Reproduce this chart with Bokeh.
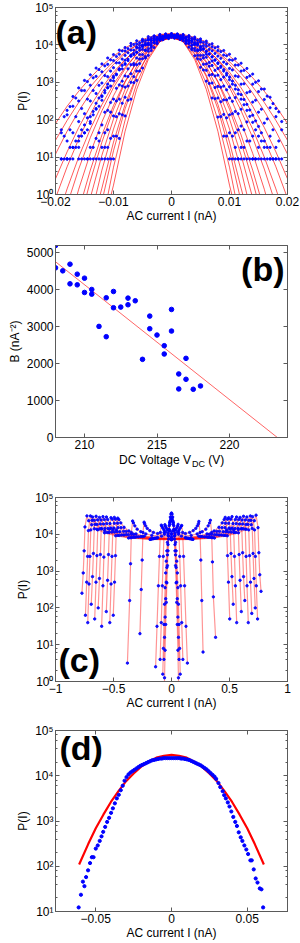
import numpy as np
from bokeh.plotting import figure
from bokeh.models import (Range1d, FixedTicker, LogTicker, LinearAxis, LogAxis, Label,
                          CustomJSTickFormatter)
from bokeh.layouts import column
from bokeh.embed import file_html
from bokeh.resources import INLINE

# ------------------------------------------------------------------ data
# (a) fitted curves (log10 P) on a common current grid, and measured points
a_fit_I = [-0.020, -0.018, -0.016, -0.014, -0.012, -0.010, -0.008, -0.006, -0.004, -0.002, 0.0,
           0.002, 0.004, 0.006, 0.008, 0.010, 0.012, 0.014, 0.016, 0.018, 0.020]
a_fit_log10P = [
    [1.90, 2.36, 2.76, 3.12, 3.44, 3.70, 3.92, 4.08, 4.20, 4.28, 4.30, 4.28, 4.20, 4.08, 3.92, 3.70, 3.44, 3.12, 2.76, 2.36, 1.90],
    [1.45, 1.98, 2.46, 2.88, 3.24, 3.55, 3.80, 4.00, 4.14, 4.22, 4.25, 4.22, 4.14, 4.00, 3.80, 3.55, 3.24, 2.88, 2.46, 1.98, 1.45],
    [1.08, 1.69, 2.23, 2.71, 3.13, 3.48, 3.77, 3.99, 4.15, 4.25, 4.28, 4.25, 4.15, 3.99, 3.77, 3.48, 3.13, 2.71, 2.23, 1.69, 1.08],
    [0.42, 1.14, 1.79, 2.36, 2.85, 3.27, 3.61, 3.88, 4.07, 4.18, 4.22, 4.18, 4.07, 3.88, 3.61, 3.27, 2.85, 2.36, 1.79, 1.14, 0.42],
    [-0.10, 0.74, 1.48, 2.14, 2.72, 3.20, 3.60, 3.90, 4.12, 4.26, 4.30, 4.26, 4.12, 3.90, 3.60, 3.20, 2.72, 2.14, 1.48, 0.74, -0.10],
    [-0.80, 0.15, 1.00, 1.75, 2.40, 2.95, 3.40, 3.75, 4.00, 4.15, 4.20, 4.15, 4.00, 3.75, 3.40, 2.95, 2.40, 1.75, 1.00, 0.15, -0.80],
    [-1.00, -0.28, 0.68, 1.52, 2.24, 2.86, 3.36, 3.76, 4.04, 4.20, 4.26, 4.20, 4.04, 3.76, 3.36, 2.86, 2.24, 1.52, 0.68, -0.28, -1.00],
    [-1.00, -0.98, 0.14, 1.10, 1.94, 2.64, 3.22, 3.66, 3.98, 4.18, 4.24, 4.18, 3.98, 3.66, 3.22, 2.64, 1.94, 1.10, 0.14, -0.98, -1.00],
    [-1.00, -1.00, -0.43, 0.65, 1.59, 2.38, 3.03, 3.53, 3.89, 4.11, 4.18, 4.11, 3.89, 3.53, 3.03, 2.38, 1.59, 0.65, -0.43, -1.00, -1.00],
    [-1.00, -1.00, -0.84, 0.36, 1.40, 2.28, 3.00, 3.56, 3.96, 4.20, 4.28, 4.20, 3.96, 3.56, 3.00, 2.28, 1.40, 0.36, -0.84, -1.00, -1.00],
    [-1.00, -1.00, -1.00, -0.09, 1.05, 2.02, 2.81, 3.43, 3.87, 4.13, 4.22, 4.13, 3.87, 3.43, 2.81, 2.02, 1.05, -0.09, -1.00, -1.00, -1.00],
    [-1.00, -1.00, -1.00, -0.65, 0.65, 1.75, 2.65, 3.35, 3.85, 4.15, 4.25, 4.15, 3.85, 3.35, 2.65, 1.75, 0.65, -0.65, -1.00, -1.00, -1.00],
    [-1.00, -1.00, -1.00, -1.00, 0.17, 1.40, 2.41, 3.19, 3.75, 4.09, 4.20, 4.09, 3.75, 3.19, 2.41, 1.40, 0.17, -1.00, -1.00, -1.00, -1.00],
    [-1.00, -1.00, -1.00, -1.00, -0.19, 1.17, 2.29, 3.15, 3.77, 4.15, 4.27, 4.15, 3.77, 3.15, 2.29, 1.17, -0.19, -1.00, -1.00, -1.00, -1.00],
    [-1.00, -1.00, -1.00, -1.00, -0.81, 0.73, 1.99, 2.97, 3.67, 4.09, 4.23, 4.09, 3.67, 2.97, 1.99, 0.73, -0.81, -1.00, -1.00, -1.00, -1.00],
    [-1.00, -1.00, -1.00, -1.00, -1.00, 0.25, 1.69, 2.81, 3.61, 4.09, 4.25, 4.09, 3.61, 2.81, 1.69, 0.25, -1.00, -1.00, -1.00, -1.00, -1.00],
]
N = None
a_data_I = [-0.019, -0.018, -0.017, -0.016, -0.015, -0.014, -0.013, -0.012, -0.011, -0.010,
            -0.009, -0.008, -0.007, -0.006, -0.005, -0.004, -0.003, -0.002, -0.001, 0.0,
            0.001, 0.002, 0.003, 0.004, 0.005, 0.006, 0.007, 0.008, 0.009, 0.010,
            0.011, 0.012, 0.013, 0.014, 0.015, 0.016, 0.017, 0.018, 0.019]
a_data_log10P = [
    [1.73, 2.25, 2.62, 2.85, 3.05, 3.20, 3.38, 3.49, 3.65, 3.74, 3.86, 3.93, 4.04, 4.11, 4.15, 4.22, 4.24, 4.28, 4.29,
     4.30, 4.29, 4.28, 4.25, 4.21, 4.16, 4.10, 4.03, 3.95, 3.85, 3.75, 3.63, 3.51, 3.37, 3.22, 3.04, 2.82, 2.60, 2.30, 1.95],
    [1.65, 2.13, 2.36, 2.50, 2.78, 2.92, 3.16, 3.28, 3.48, 3.58, 3.75, 3.84, 3.97, 4.03, 4.12, 4.16, 4.23, 4.26, 4.27,
     4.28, 4.27, 4.25, 4.22, 4.17, 4.11, 4.04, 3.95, 3.85, 3.73, 3.60, 3.46, 3.30, 3.13, 2.95, 2.75, 2.54, 2.32, 2.08, 1.73],
    [0.95, 1.43, 1.65, 1.95, 2.16, 2.50, 2.70, 2.98, 3.15, 3.39, 3.52, 3.72, 3.86, 3.95, 4.09, 4.14, 4.23, 4.25, 4.29,
     4.30, 4.29, 4.26, 4.22, 4.15, 4.07, 3.96, 3.84, 3.70, 3.54, 3.37, 3.17, 2.95, 2.72, 2.47, 2.20, 1.91, 1.56, 1.26, 0.95],
    [0.95, 0.95, 1.26, 1.56, 1.86, 2.08, 2.44, 2.64, 2.95, 3.12, 3.36, 3.50, 3.70, 3.80, 3.95, 4.02, 4.12, 4.15, 4.19,
     4.20, 4.19, 4.16, 4.11, 4.03, 3.94, 3.82, 3.68, 3.52, 3.34, 3.14, 2.92, 2.67, 2.41, 2.12, 1.82, 1.43, 1.26, 0.95, N],
    [N, 0.95, 1.26, 1.43, 1.65, 1.95, 2.28, 2.52, 2.85, 3.04, 3.33, 3.48, 3.70, 3.81, 3.97, 4.05, 4.16, 4.21, 4.25,
     4.26, 4.25, 4.21, 4.15, 4.07, 3.96, 3.83, 3.68, 3.50, 3.30, 3.07, 2.82, 2.55, 2.25, 1.93, 1.56, 1.26, 0.95, 0.95, N],
    [N, 0.95, 0.95, 1.26, 1.65, 1.90, 2.30, 2.62, 2.86, 3.16, 3.35, 3.59, 3.73, 3.92, 4.00, 4.13, 4.18, 4.22, 4.23,
     4.24, 4.23, 4.19, 4.12, 4.02, 3.90, 3.75, 3.57, 3.37, 3.14, 2.88, 2.59, 2.28, 1.94, 1.56, 1.26, 0.95, 0.95, N, N],
    [N, N, N, 0.95, 0.95, 1.26, 1.50, 1.86, 2.25, 2.55, 2.93, 3.17, 3.47, 3.65, 3.88, 4.00, 4.14, 4.20, 4.26,
     4.28, 4.26, 4.21, 4.13, 4.01, 3.86, 3.67, 3.45, 3.19, 2.90, 2.58, 2.22, 1.83, 1.43, 0.95, 0.95, N, N, N, N],
    [N, N, N, N, N, 0.95, 0.95, 1.26, 1.73, 2.10, 2.55, 2.87, 3.23, 3.47, 3.74, 3.90, 4.07, 4.16, 4.23,
     4.25, 4.23, 4.17, 4.06, 3.91, 3.72, 3.49, 3.21, 2.89, 2.53, 2.13, 1.65, 1.26, 0.95, 0.95, N, N, N, N, N],
    [N, N, N, N, N, N, N, 0.95, 1.26, 1.56, 2.16, 2.60, 3.00, 3.30, 3.63, 3.83, 4.05, 4.16, 4.24,
     4.27, 4.24, 4.17, 4.03, 3.85, 3.61, 3.32, 2.98, 2.58, 2.14, 1.65, 1.26, 0.95, N, N, N, N, N, N, N],
    [N, N, N, N, N, N, N, N, 0.95, 0.95, 1.50, 2.10, 2.55, 3.05, 3.38, 3.72, 3.93, 4.12, 4.21,
     4.25, 4.22, 4.11, 3.94, 3.71, 3.40, 3.03, 2.58, 2.07, 1.56, 0.95, 0.95, N, N, N, N, N, N, N, N],
]
a_data2_I = [-0.0185, -0.0175, -0.0165, -0.0155, -0.0145, -0.0135, -0.0125, -0.0115, -0.0105, -0.0095,
             -0.0085, -0.0075, -0.0065, -0.0055, -0.0045, -0.0035, -0.0025, -0.0015, -0.0005,
             0.0005, 0.0015, 0.0025, 0.0035, 0.0045, 0.0055, 0.0065, 0.0075, 0.0085, 0.0095,
             0.0105, 0.0115, 0.0125, 0.0135, 0.0145, 0.0155, 0.0165, 0.0175, 0.0185]
a_data2_log10P = [
    [2.08, 2.35, 2.58, 2.78, 3.02, 3.12, 3.34, 3.44, 3.60, 3.69, 3.84, 3.90, 4.01, 4.06, 4.12, 4.19, 4.20, 4.23, 4.25,
     4.25, 4.24, 4.21, 4.18, 4.13, 4.07, 4.00, 3.92, 3.82, 3.71, 3.59, 3.46, 3.32, 3.17, 3.00, 2.82, 2.63, 2.43, 2.21],
    [1.56, 1.73, 2.08, 2.30, 2.55, 2.78, 2.92, 3.18, 3.30, 3.52, 3.62, 3.79, 3.86, 3.99, 4.05, 4.13, 4.16, 4.19, 4.21,
     4.22, 4.20, 4.17, 4.12, 4.06, 3.98, 3.88, 3.77, 3.64, 3.49, 3.33, 3.15, 2.96, 2.75, 2.52, 2.28, 2.02, 1.73, 1.43],
    [0.95, 1.26, 1.43, 1.73, 2.05, 2.22, 2.58, 2.78, 3.05, 3.20, 3.45, 3.58, 3.77, 3.86, 4.00, 4.06, 4.14, 4.17, 4.20,
     4.20, 4.18, 4.13, 4.07, 3.99, 3.88, 3.75, 3.60, 3.43, 3.24, 3.03, 2.80, 2.54, 2.26, 1.97, 1.65, 1.26, 0.95, 0.95],
    [N, 0.95, 1.26, 1.56, 1.73, 2.13, 2.36, 2.72, 2.90, 3.22, 3.36, 3.62, 3.74, 3.92, 4.00, 4.12, 4.17, 4.22, 4.25,
     4.26, 4.23, 4.19, 4.11, 4.02, 3.90, 3.76, 3.59, 3.40, 3.19, 2.95, 2.69, 2.40, 2.09, 1.73, 1.43, 0.95, 0.95, N],
    [N, N, N, 0.95, 0.95, 1.26, 1.65, 2.20, 2.46, 2.84, 3.03, 3.36, 3.50, 3.74, 3.85, 4.00, 4.06, 4.14, 4.17,
     4.18, 4.15, 4.08, 3.99, 3.87, 3.72, 3.53, 3.32, 3.07, 2.80, 2.49, 2.16, 1.73, 1.43, 0.95, 0.95, N, N, N],
    [N, N, N, N, 0.95, 0.95, 1.43, 1.65, 2.20, 2.50, 2.90, 3.15, 3.46, 3.62, 3.86, 3.97, 4.11, 4.17, 4.21,
     4.22, 4.18, 4.10, 3.99, 3.84, 3.65, 3.43, 3.17, 2.87, 2.53, 2.16, 1.73, 1.26, 0.95, 0.95, N, N, N, N],
    [N, N, N, N, N, N, 0.95, 1.26, 1.50, 2.08, 2.44, 2.90, 3.15, 3.50, 3.69, 3.93, 4.03, 4.14, 4.18,
     4.19, 4.15, 4.05, 3.91, 3.72, 3.48, 3.19, 2.86, 2.48, 2.05, 1.56, 0.95, 0.95, N, N, N, N, N, N],
    [N, N, N, N, N, N, N, 0.95, 0.95, 1.56, 2.13, 2.52, 2.99, 3.30, 3.65, 3.85, 4.05, 4.15, 4.21,
     4.22, 4.16, 4.04, 3.87, 3.63, 3.33, 2.97, 2.56, 2.08, 1.56, 0.95, 0.95, N, N, N, N, N, N, N],
]
a_xticks = [-0.02, -0.01, 0.0, 0.01, 0.02]

# (b) curvature B versus DC voltage, with linear fit
b_V = [208.0, 208.0, 208.5, 209.0, 209.0, 209.5, 209.5, 210.0, 210.0, 210.5, 210.5, 211.0,
       211.5, 211.5, 212.0, 212.0, 212.5, 213.0, 213.0, 213.5, 214.0, 214.5, 214.5, 215.0,
       215.5, 215.5, 216.0, 216.0, 216.5, 216.5, 217.0, 217.0, 217.5, 218.0]
b_B = [5200, 4595, 4514, 4694, 4162, 4423, 4135, 4315, 3928, 4009, 3883, 3009,
       3784, 2730, 3955, 3514, 3532, 3775, 3595, 3703, 2117, 3288, 2946, 2775,
       2486, 2261, 3468, 2883, 1721, 1315, 2144, 1577, 1306, 1396]
b_fit_V = [208.0, 223.3]
b_fit_B = [4760, 0]
b_xticks = [210, 215, 220]
b_yticks = [0, 1000, 2000, 3000, 4000, 5000]

# (c) distributions for a set of AC amplitudes (log10 P)
c_I = [
    [-0.772, -0.761, -0.753, -0.746, -0.729, -0.714, -0.688, -0.644, -0.577, -0.481, -0.370, -0.185, 0.0, 0.185, 0.370, 0.481, 0.577, 0.644, 0.688, 0.714, 0.729, 0.746, 0.753, 0.761, 0.772],
    [-0.742, -0.731, -0.723, -0.716, -0.699, -0.685, -0.660, -0.618, -0.554, -0.462, -0.355, -0.178, 0.0, 0.178, 0.355, 0.462, 0.554, 0.618, 0.660, 0.685, 0.699, 0.716, 0.723, 0.731, 0.742],
    [-0.722, -0.711, -0.703, -0.696, -0.680, -0.666, -0.642, -0.600, -0.538, -0.449, -0.345, -0.173, 0.0, 0.173, 0.345, 0.449, 0.538, 0.600, 0.642, 0.666, 0.680, 0.696, 0.703, 0.711, 0.722],
    [-0.692, -0.681, -0.673, -0.666, -0.650, -0.637, -0.614, -0.574, -0.515, -0.429, -0.330, -0.165, 0.0, 0.165, 0.330, 0.429, 0.515, 0.574, 0.614, 0.637, 0.650, 0.666, 0.673, 0.681, 0.692],
    [-0.662, -0.651, -0.643, -0.636, -0.621, -0.608, -0.586, -0.548, -0.491, -0.410, -0.315, -0.158, 0.0, 0.158, 0.315, 0.410, 0.491, 0.548, 0.586, 0.608, 0.621, 0.636, 0.643, 0.651, 0.662],
    [-0.632, -0.621, -0.613, -0.606, -0.591, -0.579, -0.558, -0.522, -0.468, -0.390, -0.300, -0.150, 0.0, 0.150, 0.300, 0.390, 0.468, 0.522, 0.558, 0.579, 0.591, 0.606, 0.613, 0.621, 0.632],
    [-0.602, -0.591, -0.583, -0.576, -0.561, -0.550, -0.530, -0.496, -0.445, -0.371, -0.285, -0.143, 0.0, 0.143, 0.285, 0.371, 0.445, 0.496, 0.530, 0.550, 0.561, 0.576, 0.583, 0.591, 0.602],
    [-0.562, -0.551, -0.543, -0.536, -0.522, -0.511, -0.493, -0.461, -0.413, -0.345, -0.265, -0.133, 0.0, 0.133, 0.265, 0.345, 0.413, 0.461, 0.493, 0.511, 0.522, 0.536, 0.543, 0.551, 0.562],
    [-0.532, -0.521, -0.513, -0.506, -0.493, -0.483, -0.465, -0.435, -0.390, -0.325, -0.250, -0.125, 0.0, 0.125, 0.250, 0.325, 0.390, 0.435, 0.465, 0.483, 0.493, 0.506, 0.513, 0.521, 0.532],
    [-0.502, -0.491, -0.483, -0.476, -0.463, -0.454, -0.437, -0.409, -0.367, -0.306, -0.235, -0.118, 0.0, 0.118, 0.235, 0.306, 0.367, 0.409, 0.437, 0.454, 0.463, 0.476, 0.483, 0.491, 0.502],
    [-0.380, -0.361, -0.353, -0.346, -0.335, -0.328, -0.316, -0.296, -0.265, -0.221, -0.170, -0.085, 0.0, 0.085, 0.170, 0.221, 0.265, 0.296, 0.316, 0.328, 0.335, 0.346, 0.353, 0.361, 0.380],
    [-0.272, -0.261, -0.253, -0.246, -0.236, -0.232, -0.223, -0.209, -0.187, -0.156, -0.120, -0.060, 0.0, 0.060, 0.120, 0.156, 0.187, 0.209, 0.223, 0.232, 0.236, 0.246, 0.253, 0.261, 0.272],
    [-0.137, -0.125, -0.113, -0.104, -0.096, -0.088, -0.083, -0.075, -0.065, -0.050, -0.030, 0.0, 0.030, 0.050, 0.065, 0.075, 0.083, 0.088, 0.096, 0.104, 0.113, 0.125, 0.137],
    [-0.098, -0.088, -0.079, -0.071, -0.064, -0.057, -0.052, -0.045, -0.035, -0.020, 0.0, 0.020, 0.035, 0.045, 0.052, 0.057, 0.064, 0.071, 0.079, 0.088, 0.098],
    [-0.065, -0.060, -0.055, -0.050, -0.045, -0.040, -0.035, -0.030, -0.025, -0.020, -0.015, -0.010, -0.005, 0.0,
     0.005, 0.010, 0.015, 0.020, 0.025, 0.030, 0.035, 0.040, 0.045, 0.050, 0.055, 0.060, 0.065],
    [-0.065, -0.060, -0.055, -0.050, -0.045, -0.040, -0.035, -0.030, -0.025, -0.020, -0.015, -0.010, -0.005, 0.0,
     0.005, 0.010, 0.015, 0.020, 0.025, 0.030, 0.035, 0.040, 0.045, 0.050, 0.055, 0.060, 0.065],
    [-0.075, -0.070, -0.065, -0.060, -0.055, -0.050, -0.045, -0.040, -0.035, -0.030, -0.025, -0.020, -0.015, -0.010, -0.005, 0.0,
     0.005, 0.010, 0.015, 0.020, 0.025, 0.030, 0.035, 0.040, 0.045, 0.050, 0.055, 0.060, 0.065, 0.070, 0.075],
]
c_log10P = [
    [2.40, 2.95, 3.55, 4.20, 4.50, 4.37, 4.26, 4.14, 4.04, 3.96, 3.90, 3.86, 3.85, 3.86, 3.90, 3.96, 4.04, 4.14, 4.26, 4.37, 4.52, 4.18, 3.50, 2.90, 2.45],
    [1.80, 2.70, 3.40, 4.10, 4.50, 4.38, 4.27, 4.15, 4.05, 3.97, 3.91, 3.87, 3.86, 3.87, 3.91, 3.97, 4.05, 4.15, 4.27, 4.38, 4.48, 4.12, 3.40, 2.60, 1.70],
    [1.60, 2.65, 3.40, 4.12, 4.47, 4.38, 4.27, 4.15, 4.05, 3.97, 3.91, 3.87, 3.86, 3.87, 3.91, 3.97, 4.05, 4.15, 4.27, 4.38, 4.50, 4.16, 3.48, 2.80, 2.00],
    [2.10, 2.85, 3.48, 4.15, 4.49, 4.39, 4.28, 4.16, 4.06, 3.98, 3.92, 3.88, 3.87, 3.88, 3.92, 3.98, 4.06, 4.16, 4.28, 4.39, 4.47, 4.12, 3.42, 2.70, 1.85],
    [1.70, 2.70, 3.42, 4.12, 4.46, 4.39, 4.28, 4.16, 4.06, 3.98, 3.92, 3.88, 3.87, 3.88, 3.92, 3.98, 4.06, 4.16, 4.28, 4.39, 4.49, 4.14, 3.40, 2.60, 1.60],
    [2.00, 2.80, 3.45, 4.15, 4.48, 4.40, 4.29, 4.17, 4.07, 3.99, 3.93, 3.89, 3.88, 3.89, 3.93, 3.99, 4.07, 4.17, 4.29, 4.40, 4.46, 4.15, 3.50, 2.85, 2.20],
    [1.50, 2.60, 3.38, 4.10, 4.47, 4.40, 4.29, 4.17, 4.07, 3.99, 3.93, 3.89, 3.88, 3.89, 3.93, 3.99, 4.07, 4.17, 4.29, 4.40, 4.47, 4.13, 3.45, 2.75, 1.90],
    [1.90, 2.75, 3.45, 4.14, 4.45, 4.41, 4.30, 4.18, 4.08, 4.00, 3.94, 3.90, 3.89, 3.90, 3.94, 4.00, 4.08, 4.18, 4.30, 4.41, 4.48, 4.12, 3.40, 2.60, 1.60],
    [1.60, 2.65, 3.40, 4.12, 4.46, 4.41, 4.30, 4.18, 4.08, 4.00, 3.94, 3.90, 3.89, 3.90, 3.94, 4.00, 4.08, 4.18, 4.30, 4.41, 4.45, 4.14, 3.48, 2.85, 2.10],
    [1.80, 2.70, 3.42, 4.12, 4.44, 4.40, 4.31, 4.19, 4.09, 4.01, 3.95, 3.91, 3.90, 3.91, 3.95, 4.01, 4.09, 4.19, 4.31, 4.40, 4.46, 4.12, 3.42, 2.70, 1.70],
    [0.50, 2.20, 3.20, 4.05, 4.36, 4.31, 4.23, 4.14, 4.07, 4.01, 3.97, 3.95, 3.94, 3.95, 3.97, 4.01, 4.07, 4.14, 4.23, 4.31, 4.38, 4.05, 3.25, 2.30, 1.20],
    [1.30, 2.50, 3.30, 4.05, 4.33, 4.29, 4.23, 4.16, 4.10, 4.05, 4.02, 4.00, 4.00, 4.00, 4.02, 4.05, 4.10, 4.16, 4.23, 4.29, 4.35, 4.05, 3.30, 2.20, 0.80],
    [0.40, 1.50, 2.60, 3.40, 4.05, 4.25, 4.22, 4.17, 4.12, 4.07, 4.03, 4.02, 4.03, 4.07, 4.12, 4.17, 4.22, 4.24, 4.05, 3.40, 2.60, 1.50, 0.50],
    [0.60, 1.60, 2.60, 3.40, 4.05, 4.26, 4.22, 4.17, 4.12, 4.09, 4.08, 4.09, 4.12, 4.17, 4.22, 4.27, 4.05, 3.40, 2.60, 1.60, 0.60],
    [-0.70, 0.10, 0.85, 1.55, 2.15, 2.68, 3.15, 3.55, 3.87, 4.13, 4.33, 4.47, 4.55, 4.58,
     4.55, 4.47, 4.33, 4.13, 3.87, 3.55, 3.15, 2.68, 2.15, 1.55, 0.85, 0.10, -0.70],
    [0.60, 1.20, 1.75, 2.25, 2.70, 3.10, 3.44, 3.72, 3.95, 4.13, 4.27, 4.37, 4.43, 4.45,
     4.43, 4.37, 4.27, 4.13, 3.95, 3.72, 3.44, 3.10, 2.70, 2.25, 1.75, 1.20, 0.60],
    [0.20, 0.90, 1.55, 2.10, 2.55, 2.95, 3.27, 3.55, 3.78, 3.97, 4.12, 4.23, 4.31, 4.36, 4.38, 4.38,
     4.38, 4.36, 4.31, 4.23, 4.12, 3.97, 3.78, 3.55, 3.27, 2.95, 2.55, 2.10, 1.55, 0.90, 0.20],
]
c_xticks = [-1.0, -0.5, 0.0, 0.5, 1.0]

# (d) single distribution and Gaussian fit (log10 P)
d_fit_I = [-0.061, -0.055, -0.050, -0.045, -0.040, -0.035, -0.030, -0.025, -0.020, -0.015, -0.010, -0.005, 0.0,
           0.005, 0.010, 0.015, 0.020, 0.025, 0.030, 0.035, 0.040, 0.045, 0.050, 0.055, 0.061]
d_fit_log10P = [2.04, 2.49, 2.84, 3.14, 3.42, 3.66, 3.88, 4.05, 4.20, 4.31, 4.40, 4.44, 4.46,
                4.44, 4.40, 4.31, 4.20, 4.05, 3.88, 3.66, 3.42, 3.14, 2.84, 2.49, 2.04]
d_data_I = [-0.0613, -0.0598, -0.0585, -0.0575, -0.0564, -0.0551, -0.0538, -0.0526, -0.0515, -0.0500,
            -0.0487, -0.0474, -0.0462, -0.0451, -0.0438, -0.0425, -0.0412, -0.0399, -0.0387, -0.0374,
            -0.0361, -0.0348, -0.0335, -0.0322, -0.0310, -0.0297,
            -0.0284, -0.0271, -0.0258, -0.0245, -0.0232, -0.0219, -0.0206, -0.0193, -0.0180, -0.0167,
            -0.0155, -0.0142, -0.0129, -0.0116, -0.0103, -0.0090, -0.0077, -0.0064, -0.0052, -0.0039,
            -0.0026, -0.0013, 0.0, 0.0013, 0.0026, 0.0039, 0.0052, 0.0064, 0.0077, 0.0090,
            0.0103, 0.0116, 0.0129, 0.0142, 0.0155, 0.0167, 0.0180, 0.0193, 0.0206, 0.0219,
            0.0232, 0.0245, 0.0258, 0.0271, 0.0284,
            0.0295, 0.0310, 0.0322, 0.0338, 0.0348, 0.0359, 0.0372, 0.0383, 0.0395, 0.0408,
            0.0421, 0.0432, 0.0444, 0.0457, 0.0468, 0.0481, 0.0494, 0.0506, 0.0521, 0.0530,
            0.0543, 0.0556, 0.0568, 0.0583, 0.0594, 0.0605]
d_data_log10P = [1.09, 1.37, 1.66, 1.56, 1.76, 1.91, 2.07, 2.20, 2.20, 2.39,
                 2.46, 2.56, 2.66, 2.76, 2.87, 2.98, 3.07, 3.18, 3.28, 3.39,
                 3.50, 3.58, 3.68, 3.78, 3.89, 3.97,
                 4.03, 4.07, 4.10, 4.13, 4.16, 4.19, 4.22, 4.24, 4.26, 4.28,
                 4.30, 4.32, 4.34, 4.35, 4.36, 4.37, 4.38, 4.38, 4.39, 4.39,
                 4.39, 4.39, 4.39, 4.39, 4.39, 4.39, 4.39, 4.38, 4.38, 4.37,
                 4.36, 4.35, 4.33, 4.31, 4.29, 4.27, 4.25, 4.23, 4.20, 4.17,
                 4.14, 4.10, 4.06, 4.02, 3.98,
                 3.93, 3.84, 3.75, 3.66, 3.57, 3.50, 3.41, 3.32, 3.21, 3.09,
                 2.98, 2.89, 2.75, 2.64, 2.56, 2.46, 2.37, 2.27, 2.13, 2.13,
                 1.93, 1.73, 1.64, 1.51, 1.49, 1.09]
d_xticks = [-0.05, 0.0, 0.05]

# ------------------------------------------------------------------ styling
FONT = "Liberation Sans"
AX = "#5a5a5a"
W = 300
LOG_JS = ("const s=['\\u2070','\\u00b9','\\u00b2','\\u00b3','\\u2074','\\u2075','\\u2076'];"
          "return '10'+s[Math.round(Math.log10(tick))];")
LIN_JS = "return String(+tick.toFixed(4)).replace('-', '\\u2212');"


def style_axis(ax):
    ax.axis_line_color = AX
    ax.major_tick_line_color = AX
    ax.minor_tick_line_color = AX
    ax.major_tick_in = 4
    ax.major_tick_out = 0
    ax.minor_tick_in = 2
    ax.minor_tick_out = 0


def make_fig(height, xr, yr, log_y, xticks, yticks, bl, br, bt, bb, xlabel, ylabel):
    p = figure(width=W, height=height, x_range=Range1d(*xr), y_range=Range1d(*yr),
               y_axis_type="log" if log_y else "linear",
               output_backend="svg", toolbar_location=None,
               min_border_left=bl, min_border_right=br, min_border_top=bt, min_border_bottom=bb)
    p.grid.visible = False
    p.outline_line_color = AX
    p.background_fill_color = "white"
    p.border_fill_color = "white"
    bottom = p.below[0]
    left = p.left[0]
    bottom.ticker = FixedTicker(ticks=xticks)
    bottom.formatter = CustomJSTickFormatter(code=LIN_JS)
    if log_y:
        left.ticker = LogTicker()
        left.formatter = CustomJSTickFormatter(code=LOG_JS)
        right = LogAxis(ticker=LogTicker())
    else:
        left.ticker = FixedTicker(ticks=yticks)
        left.formatter = CustomJSTickFormatter(code=LIN_JS)
        right = LinearAxis(ticker=FixedTicker(ticks=yticks))
    top = LinearAxis(ticker=FixedTicker(ticks=xticks))
    for ax in (bottom, left):
        style_axis(ax)
        ax.major_label_text_font = FONT
        ax.major_label_text_font_size = "12px"
        ax.major_label_text_color = "black"
        ax.major_label_standoff = 2
        ax.axis_label_text_font = FONT
        ax.axis_label_text_font_style = "normal"
        ax.axis_label_text_font_size = "12px"
        ax.axis_label_text_color = "black"
    # mirrored tick marks on the top and right edges (box style), without labels
    for ax in (top, right):
        style_axis(ax)
        ax.major_label_text_font_size = "1px"
        ax.major_label_text_color = None
        ax.major_label_standoff = 0
    p.add_layout(right, "right")
    p.add_layout(top, "above")
    bottom.axis_label_standoff = 0
    left.axis_label_standoff = 2
    bottom.minor_tick_line_color = None
    top.minor_tick_line_color = None
    if not log_y:
        left.minor_tick_line_color = None
        right.minor_tick_line_color = None
    if xlabel:
        bottom.axis_label = xlabel
    if ylabel:
        left.axis_label = ylabel
    return p


def panel_label(p, text, **kw):
    p.add_layout(Label(text=text, text_font=FONT, text_font_style="bold",
                       text_font_size="34px", text_color="black",
                       text_baseline="middle", **kw))


def pw(vals):
    return list(10.0 ** np.array(vals, dtype=float))


# ------------------------------------------------------------------ (a)
TA, FA, BA = 7, 187, 32
pa = make_fig(TA + FA + BA, (-0.02, 0.02), (1, 1e5), True, a_xticks, None, 55, 13, TA, BA,
              "AC current I (nA)", "P(I)")
pa.multi_line([a_fit_I] * len(a_fit_log10P), [pw(r) for r in a_fit_log10P],
              line_color="red", line_alpha=0.65, line_width=1)
a_dx = [x for _ in a_data_log10P for x in a_data_I] + [x for _ in a_data2_log10P for x in a_data2_I]
a_dy = [v for r in a_data_log10P for v in pw(r)] + [v for r in a_data2_log10P for v in pw(r)]
pa.scatter(a_dx, a_dy, size=2.2, color="blue", alpha=0.9)
panel_label(pa, "(a)", x=0, y=FA - 24, x_units="screen", y_units="screen")

# ------------------------------------------------------------------ (b)
TB, FB, BB = 19, 192, 16
pb = make_fig(TB + FB + BB, (208, 224), (0, 5200), False, b_xticks, b_yticks, 48, 13, TB, BB,
              None, "B (nA\u207b\u00b2)")
pb.line(b_fit_V, b_fit_B, line_color="#ff2a2a", line_width=0.9, line_alpha=0.8)
pb.scatter(b_V, b_B, size=4.6, color="blue")
panel_label(pb, "(b)", x=224, x_offset=-3, text_align="right",
            y=FB - 23, x_units="data", y_units="screen")

# x-axis title of (b) with subscript, in a thin strip below the panel
pbl = figure(width=W, height=14, x_range=pb.x_range, y_range=Range1d(0, 1),
             x_axis_location=None, y_axis_location=None, output_backend="svg",
             toolbar_location=None, min_border_left=48, min_border_right=13,
             min_border_top=0, min_border_bottom=0)
pbl.outline_line_color = None
pbl.grid.visible = False
xl_kw = dict(x=216, x_units="data", y_units="screen", text_font=FONT,
             text_color="black", text_baseline="middle", text_align="left")
pbl.add_layout(Label(text="DC Voltage V", y=8, x_offset=-52.5, text_font_size="12px", **xl_kw))
pbl.add_layout(Label(text="DC", y=4, x_offset=20.5, text_font_size="9px", **xl_kw))
pbl.add_layout(Label(text="(V)", y=8, x_offset=36.8, text_font_size="12px", **xl_kw))

# ------------------------------------------------------------------ (c)
TC, FC, BC = 30, 184, 31
pc = make_fig(TC + FC + BC, (-1, 1), (1, 1e5), True, c_xticks, None, 49, 12, TC, BC,
              "AC current I (nA)", "P(I)")
pc.multi_line(c_I, [pw(r) for r in c_log10P], line_color="red", line_alpha=0.42, line_width=1.2)
c_dx = [x for r in c_I for x in r]
c_dy = [v for r in c_log10P for v in pw(r)]
pc.scatter(c_dx, c_dy, size=2.4, color="blue", alpha=0.9)
panel_label(pc, "(c)", x=3, y=22, x_units="screen", y_units="screen")

# ------------------------------------------------------------------ (d)
TD, FD, BD = 18, 182, 30
pd_ = make_fig(TD + FD + BD, (-0.0766, 0.0766), (10, 1e5), True, d_xticks, None, 49, 12, TD, BD,
               "AC current I (nA)", "P(I)")
pd_.line(d_fit_I, pw(d_fit_log10P), line_color="red", line_width=2.2)
pd_.scatter(d_data_I, pw(d_data_log10P), size=3.2, color="blue")
panel_label(pd_, "(d)", x=4, y=FD - 18, x_units="screen", y_units="screen")

layout = column(pa, pb, pbl, pc, pd_, spacing=0)
open("out.html", "w").write(file_html(layout, INLINE))
